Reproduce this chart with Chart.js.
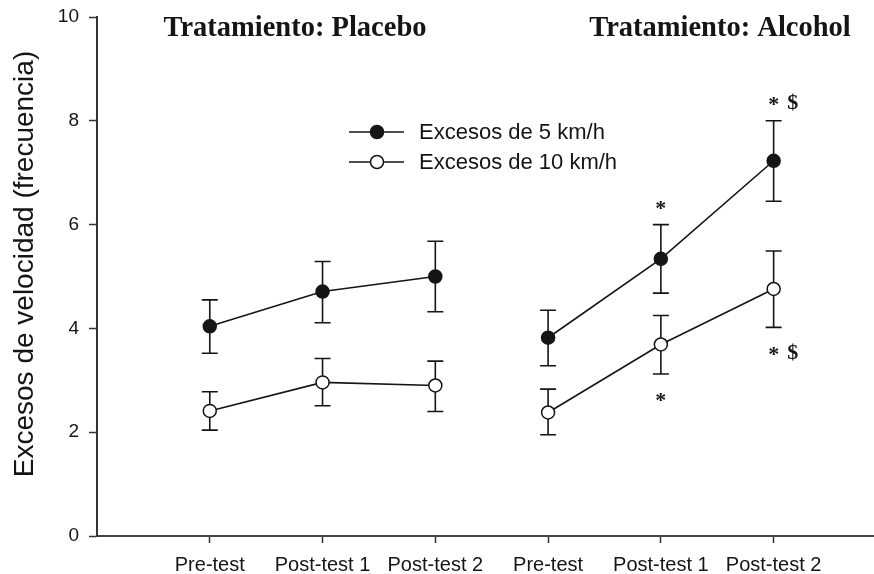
<!DOCTYPE html>
<html>
<head>
<meta charset="utf-8">
<script src="https://cdn.jsdelivr.net/npm/chart.js@4.4.0/dist/chart.umd.min.js"></script>
<style>
    html, body { margin: 0; padding: 0; background: #fff; }
    #chart { display: block; }
</style>
</head>
<body>
<canvas id="chart" width="874" height="574"></canvas>
<script>
// Data
var xLabels = ['Pre-test', 'Post-test 1', 'Post-test 2', 'Pre-test', 'Post-test 1', 'Post-test 2'];
var placeboX = [1, 2, 3];
var alcoholX = [4, 5, 6];
var yTicks = [0, 2, 4, 6, 8, 10];

var placebo5 = [4.04, 4.71, 5.00];
var placebo5Lo = [3.52, 4.11, 4.32];
var placebo5Hi = [4.55, 5.29, 5.68];
var alcohol5 = [3.82, 5.34, 7.23];
var alcohol5Lo = [3.28, 4.68, 6.45];
var alcohol5Hi = [4.35, 6.00, 8.00];

var placebo10 = [2.41, 2.96, 2.90];
var placebo10Lo = [2.04, 2.51, 2.40];
var placebo10Hi = [2.78, 3.42, 3.37];
var alcohol10 = [2.38, 3.69, 4.76];
var alcohol10Lo = [1.95, 3.12, 4.02];
var alcohol10Hi = [2.83, 4.25, 5.49];

var seriesNames = ['Excesos de 5 km/h', 'Excesos de 10 km/h'];
var groupTitles = ['Tratamiento: Placebo', 'Tratamiento: Alcohol'];
var yTitle = 'Excesos de velocidad (frecuencia)';

// significance marks: x category, y value, text
var markX = [5, 6, 6, 5];
var markY = [6.38, 8.38, 3.55, 2.68];
var markText = ['*', '*$', '*$', '*'];

var INK = '#151515';

function withErrors(xs, ys, lo, hi) {
    return xs.map(function(x, i) { return { x: x, y: ys[i], lo: lo[i], hi: hi[i] }; });
}

function lineSet(label, data, filled) {
    return {
        label: label,
        data: data,
        borderColor: INK,
        borderWidth: 1.6,
        pointRadius: 6.5,
        pointHoverRadius: 6.5,
        pointBorderWidth: 1.5,
        pointBorderColor: INK,
        pointBackgroundColor: filled ? INK : '#fff',
        tension: 0,
        fill: false
    };
}

// Error bars, drawn under the markers
var errorBars = {
    id: 'errorBars',
    beforeDatasetsDraw: function(chart) {
        var ctx = chart.ctx;
        var xs = chart.scales.x, ys = chart.scales.y;
        ctx.save();
        ctx.strokeStyle = INK;
        ctx.lineWidth = 1.6;
        chart.data.datasets.forEach(function(ds) {
            ds.data.forEach(function(p) {
                var px = xs.getPixelForValue(p.x);
                var top = ys.getPixelForValue(p.hi);
                var bot = ys.getPixelForValue(p.lo);
                ctx.beginPath();
                ctx.moveTo(px, top); ctx.lineTo(px, bot);
                ctx.moveTo(px - 8, top); ctx.lineTo(px + 8, top);
                ctx.moveTo(px - 8, bot); ctx.lineTo(px + 8, bot);
                ctx.stroke();
            });
        });
        ctx.restore();
    }
};

// Titles, legend, axis title and significance marks
var decorations = {
    id: 'decorations',
    afterDraw: function(chart) {
        var ctx = chart.ctx;
        var xs = chart.scales.x, ys = chart.scales.y;
        ctx.save();
        ctx.fillStyle = INK;

        // group titles
        ctx.font = 'bold 28.5px "Liberation Serif", "Times New Roman", serif';
        ctx.textAlign = 'center';
        ctx.textBaseline = 'middle';
        ctx.fillText(groupTitles[0], 295, 29);
        ctx.fillText(groupTitles[1], 720, 29);

        // y axis title
        ctx.save();
        ctx.translate(25, 264);
        ctx.rotate(-Math.PI / 2);
        ctx.font = '28px "Liberation Sans", Arial, sans-serif';
        ctx.fillText(yTitle, 0, 0);
        ctx.restore();

        // significance marks
        ctx.font = 'bold 22px "Liberation Serif", "Times New Roman", serif';
        ctx.textAlign = 'center';
        ctx.textBaseline = 'middle';
        markText.forEach(function(t, i) {
            var px = xs.getPixelForValue(markX[i]);
            var py = ys.getPixelForValue(markY[i]);
            ctx.fillText(t.charAt(0), px, py + 4);
            if (t.length > 1) ctx.fillText(t.charAt(1), px + 19, py + 2);
        });

        // legend
        ctx.font = '22px "Liberation Sans", Arial, sans-serif';
        ctx.textAlign = 'left';
        var rows = [132, 162];
        seriesNames.forEach(function(name, i) {
            var y = rows[i];
            ctx.strokeStyle = INK;
            ctx.lineWidth = 1.6;
            ctx.beginPath();
            ctx.moveTo(349, y); ctx.lineTo(404, y);
            ctx.stroke();
            ctx.beginPath();
            ctx.arc(377, y, 6.5, 0, Math.PI * 2);
            ctx.fillStyle = i === 0 ? INK : '#fff';
            ctx.fill();
            ctx.lineWidth = 1.5;
            ctx.stroke();
            ctx.fillStyle = INK;
            ctx.fillText(name, 419, y + 1);
        });
        ctx.restore();
    }
};

var ctx = document.getElementById('chart');
var chart = new Chart(ctx, {
    type: 'line',
    data: {
        datasets: [
            lineSet(seriesNames[0], withErrors(placeboX, placebo5, placebo5Lo, placebo5Hi), true),
            lineSet(seriesNames[0], withErrors(alcoholX, alcohol5, alcohol5Lo, alcohol5Hi), true),
            lineSet(seriesNames[1], withErrors(placeboX, placebo10, placebo10Lo, placebo10Hi), false),
            lineSet(seriesNames[1], withErrors(alcoholX, alcohol10, alcohol10Lo, alcohol10Hi), false)
        ]
    },
    options: {
        responsive: false,
        animation: false,
        layout: { autoPadding: false, padding: { top: 17, right: 0, left: 0, bottom: 0 } },
        plugins: {
            legend: { display: false },
            tooltip: { enabled: false }
        },
        scales: {
            x: {
                type: 'linear',
                min: 0,
                max: 6.89,
                afterBuildTicks: function(scale) {
                    scale.ticks = placeboX.concat(alcoholX).map(function(v) { return { value: v }; });
                },
                afterFit: function(scale) {
                    scale.height = 38;
                    scale.paddingLeft = 0;
                    scale.paddingRight = 0;
                },
                ticks: {
                    autoSkip: false,
                    maxRotation: 0,
                    padding: 10,
                    color: INK,
                    font: { family: '"Liberation Sans", Arial, sans-serif', size: 20 },
                    callback: function(value) { return xLabels[value - 1]; }
                },
                grid: {
                    drawOnChartArea: false,
                    tickLength: 7,
                    tickWidth: 1.5,
                    color: '#333'
                },
                border: { display: true, color: '#444', width: 2 }
            },
            y: {
                min: 0,
                max: 10,
                afterBuildTicks: function(scale) {
                    scale.ticks = yTicks.map(function(v) { return { value: v }; });
                },
                afterFit: function(scale) {
                    scale.width = 97;
                    scale.paddingTop = 0;
                    scale.paddingBottom = 0;
                },
                ticks: {
                    padding: 10,
                    color: INK,
                    font: { family: '"Liberation Sans", Arial, sans-serif', size: 19 }
                },
                grid: {
                    drawOnChartArea: false,
                    tickLength: 8,
                    tickWidth: 1.5,
                    color: '#333'
                },
                border: { display: true, color: '#333', width: 2 }
            }
        }
    },
    plugins: [errorBars, decorations]
});
</script>
</body>
</html>
